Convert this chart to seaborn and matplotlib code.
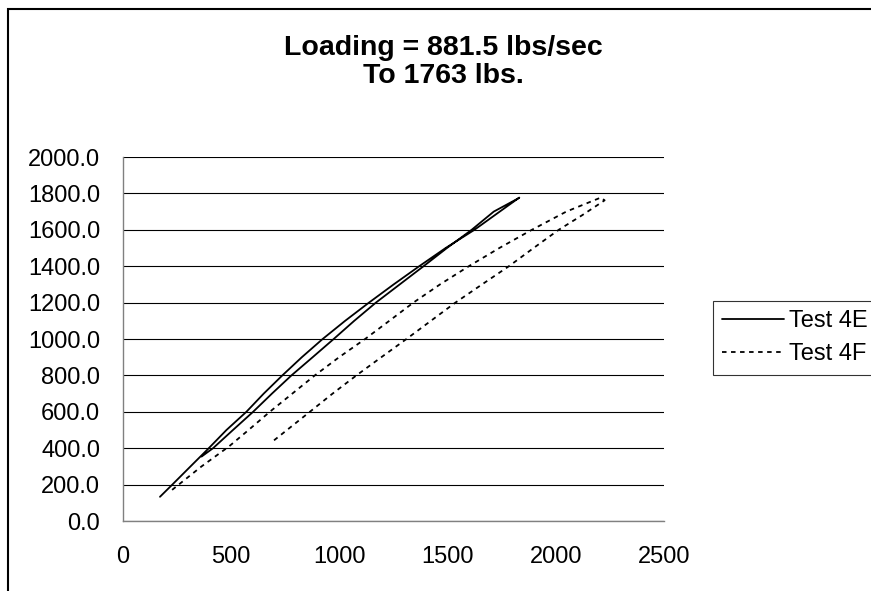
import matplotlib
matplotlib.use("Agg")
import matplotlib.pyplot as plt
import seaborn as sns
import pandas as pd
from matplotlib.patches import Rectangle

# ---- data ----
title_line1 = "Loading = 881.5 lbs/sec"
title_line2 = "To 1763 lbs."
series_names = ["Test 4E", "Test 4F"]

# Test 4E: loading path then unloading path
test_4e_x = [173, 230, 314, 395, 480, 572, 652, 738, 828, 924, 1028, 1138, 1252, 1370,
             1492, 1625, 1730, 1832,
             1826, 1714, 1612, 1498, 1390, 1280, 1170, 1070, 975, 878, 780, 690, 603, 510, 418, 365]
test_4e_y = [133, 200, 300, 396, 500, 600, 700, 800, 900, 1000, 1100, 1200, 1300, 1400,
             1500, 1600, 1690, 1777,
             1772, 1700, 1600, 1500, 1400, 1300, 1200, 1100, 1000, 900, 800, 700, 600, 500, 400, 354]

# Test 4F: loading path then unloading path
test_4f_x = [229, 365, 492, 582, 680, 784, 888, 1000, 1120, 1232, 1343, 1466, 1599, 1740,
             1890, 2049, 2208,
             2226, 2122, 2014, 1898, 1784, 1660, 1537, 1424, 1311, 1195, 1080, 970, 865, 694]
test_4f_y = [171, 300, 410, 500, 600, 700, 800, 900, 1000, 1100, 1200, 1300, 1400, 1500,
             1600, 1700, 1777,
             1762, 1680, 1600, 1500, 1400, 1300, 1200, 1100, 1000, 900, 800, 700, 600, 438]

x_ticks = [0, 500, 1000, 1500, 2000, 2500]
y_ticks = [0, 200, 400, 600, 800, 1000, 1200, 1400, 1600, 1800, 2000]

# ---- style ----
sns.set_style("white")
plt.rcParams["font.family"] = ["Liberation Sans", "DejaVu Sans"]
plt.rcParams["text.color"] = "black"

W, H = 871, 591
fig = plt.figure(figsize=(W / 100, H / 100), dpi=100)
ax = fig.add_axes([122.5 / W, 1 - 521 / H, (664 - 122.5) / W, (521 - 157) / H])

df_e = pd.DataFrame({"x": test_4e_x, "y": test_4e_y})
df_f = pd.DataFrame({"x": test_4f_x, "y": test_4f_y})

sns.lineplot(data=df_e, x="x", y="y", sort=False, estimator=None, ax=ax,
             color="black", linewidth=1.3, label=series_names[0])
sns.lineplot(data=df_f, x="x", y="y", sort=False, estimator=None, ax=ax,
             color="black", linewidth=1.3, linestyle=(0, (2.5, 2.5)),
             label=series_names[1])

ax.set_xlim(0, 2500)
ax.set_ylim(0, 2000)
ax.set_xticks(x_ticks)
ax.set_xticklabels([str(v) for v in x_ticks])
ax.set_yticks(y_ticks)
ax.set_yticklabels([f"{v:.1f}" for v in y_ticks])
ax.set_xlabel("")
ax.set_ylabel("")

ax.yaxis.grid(True, color="black", linewidth=0.8)
ax.xaxis.grid(False)
ax.set_axisbelow(True)
for s in ["top", "right"]:
    ax.spines[s].set_visible(False)
for s in ["left", "bottom"]:
    ax.spines[s].set_color("#808080")
    ax.spines[s].set_linewidth(1.0)

ax.tick_params(axis="both", which="major", direction="out", length=6, width=1,
               color="#808080", labelsize=17, labelcolor="black")
ax.tick_params(axis="x", pad=12)
ax.tick_params(axis="y", pad=10)

# title (two lines)
fig.text(443.5 / W, 1 - 55 / H, title_line1, ha="center", va="baseline",
         fontsize=20.5, fontweight="bold", color="black")
fig.text(443.5 / W, 1 - 83 / H, title_line2, ha="center", va="baseline",
         fontsize=20.5, fontweight="bold", color="black")

# legend
leg = ax.legend(loc="upper left", bbox_to_anchor=(713 / W, 1 - 301 / H),
                bbox_transform=fig.transFigure, frameon=True, fancybox=False,
                edgecolor="black", fontsize=17, handlelength=2.6,
                handletextpad=0.2, borderpad=0.4, labelspacing=0.45,
                borderaxespad=0)
leg.get_frame().set_linewidth(0.8)
for t in leg.get_texts():
    t.set_color("black")

# chart-area border
fig.patches.append(Rectangle((8 / W, -0.1), 1.2, 1 - 9 / H + 0.1,
                             transform=fig.transFigure, fill=False,
                             edgecolor="black", linewidth=1.5))

fig.savefig("out.png", dpi=100)
